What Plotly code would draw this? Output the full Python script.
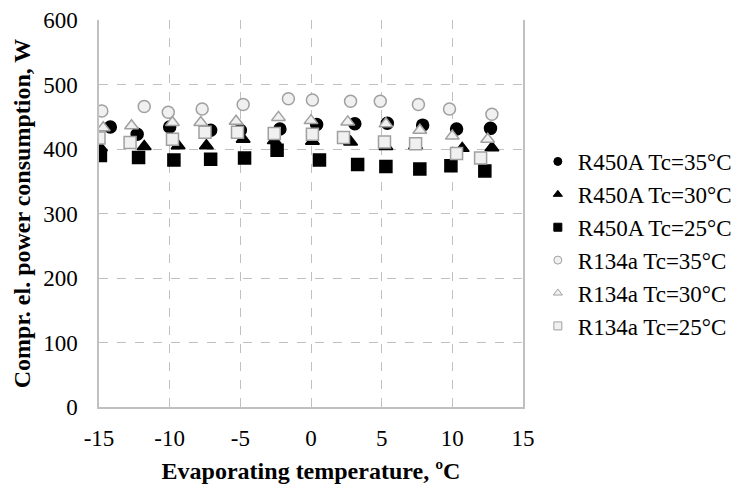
import plotly.graph_objects as go

# R450A, Tc = 35 / 30 / 25 °C
r450a_35_x = [-14.2, -12.3, -10.0, -7.1, -5.0, -2.2, 0.4, 3.1, 5.4, 7.9, 10.3, 12.7]
r450a_35_y = [434, 423, 434, 429, 429, 431, 438, 439, 440, 437, 431, 432]
r450a_30_x = [-14.9, -11.8, -9.4, -7.4, -4.8, -2.6, 0.1, 2.8, 5.3, 7.4, 10.7, 12.8]
r450a_30_y = [402, 404, 405, 405, 415, 413, 412, 411, 404, 405, 401, 402]
r450a_25_x = [-14.9, -12.2, -9.7, -7.1, -4.7, -2.4, 0.6, 3.3, 5.3, 7.7, 9.9, 12.3]
r450a_25_y = [390, 387, 383, 384, 386, 398, 383, 376, 373, 369, 374, 366]

# R134a, Tc = 35 / 30 / 25 °C
r134a_35_x = [-14.8, -11.8, -10.1, -7.7, -4.8, -1.6, 0.1, 2.8, 4.9, 7.6, 9.8, 12.8]
r134a_35_y = [459, 466, 457, 462, 469, 478, 476, 474, 474, 469, 462, 454]
r134a_30_x = [-14.7, -12.7, -9.8, -7.8, -5.3, -2.3, 0.0, 2.6, 5.3, 7.7, 10.0, 12.5]
r134a_30_y = [433, 436, 441, 441, 443, 449, 444, 442, 439, 429, 420, 415]
r134a_25_x = [-15.0, -12.8, -9.8, -7.5, -5.2, -2.6, 0.1, 2.3, 5.2, 7.4, 10.3, 12.0]
r134a_25_y = [417, 410, 415, 426, 426, 424, 423, 418, 411, 408, 393, 386]

x_ticks = [-15, -10, -5, 0, 5, 10, 15]
x_ticktext = ["-15", "-10", "-5", "0", "5", "10", "15"]
y_ticks = [0, 100, 200, 300, 400, 500, 600]

FONT = "Liberation Serif, Times New Roman, serif"
GRID = "#c0c0c0"
OPEN_FILL = "#f0f0f0"
OPEN_LINE = "#a0a0a0"

series = [
    ("R450A Tc=35°C", r450a_35_x, r450a_35_y, "circle", "black", "black"),
    ("R450A Tc=30°C", r450a_30_x, r450a_30_y, "triangle-up", "black", "black"),
    ("R450A Tc=25°C", r450a_25_x, r450a_25_y, "square", "black", "black"),
    ("R134a Tc=35°C", r134a_35_x, r134a_35_y, "circle", OPEN_FILL, OPEN_LINE),
    ("R134a Tc=30°C", r134a_30_x, r134a_30_y, "triangle-up", OPEN_FILL, OPEN_LINE),
    ("R134a Tc=25°C", r134a_25_x, r134a_25_y, "square", OPEN_FILL, OPEN_LINE),
]

fig = go.Figure()
for name, xs, ys, sym, fill, line in series:
    fig.add_trace(
        go.Scatter(
            x=xs, y=ys, mode="markers", name=name, showlegend=False,
            marker=dict(symbol=sym, size=12, color=fill, line=dict(color=line, width=1.5)),
        )
    )
# small legend markers, as in the original
for name, xs, ys, sym, fill, line in series:
    fig.add_trace(
        go.Scatter(
            x=[None], y=[None], mode="markers", name=name,
            marker=dict(symbol=sym, size=8, color=fill, line=dict(color=line, width=1)),
        )
    )

fig.update_layout(
    width=739,
    height=478,
    margin=dict(l=91, r=224, t=12, b=79, autoexpand=False),
    paper_bgcolor="white",
    plot_bgcolor="white",
    font=dict(family=FONT, size=23, color="black"),
    showlegend=True,
    legend=dict(
        x=1.035,
        y=0.69,
        xanchor="left",
        yanchor="top",
        font=dict(family=FONT, size=23, color="black"),
        itemwidth=30,
        tracegroupgap=0,
        bgcolor="rgba(0,0,0,0)",
    ),
)
fig.update_xaxes(
    range=[-15, 15],
    tickvals=x_ticks,
    ticktext=x_ticktext,
    ticks="",
    ticklabelstandoff=10,
    automargin=False,
    showgrid=True,
    gridcolor=GRID,
    griddash="dash",
    gridwidth=1,
    zeroline=False,
    showline=True,
    linecolor=GRID,
    linewidth=1.5,
    title=dict(text="<b>Evaporating temperature, ºC</b>", font=dict(size=24), standoff=12),
)
fig.update_yaxes(
    range=[0, 600],
    tickvals=y_ticks,
    ticks="",
    ticklabelstandoff=15,
    automargin=False,
    showgrid=True,
    gridcolor=GRID,
    griddash="dash",
    gridwidth=1,
    zeroline=False,
    showline=True,
    mirror=True,
    linecolor=GRID,
    linewidth=1.5,
    title=dict(text="<b>Compr. el. power consumption, W</b>", font=dict(size=24), standoff=6),
)

fig.write_html("out.html")
